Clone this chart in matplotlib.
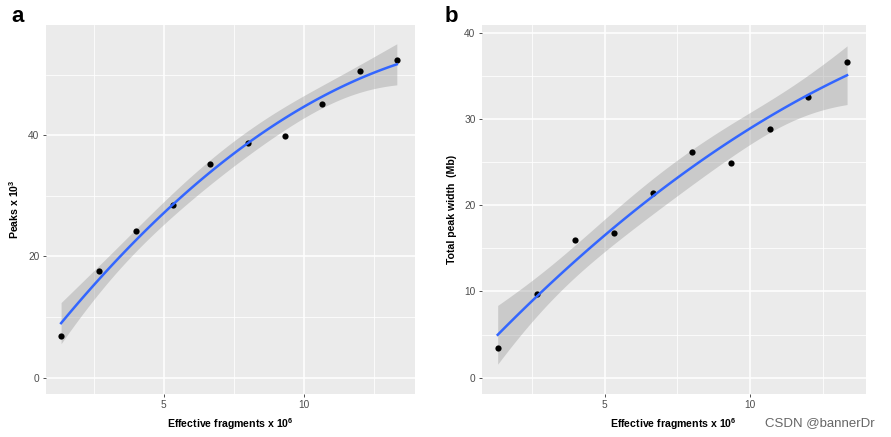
import numpy as np
import matplotlib
matplotlib.use("Agg")
import matplotlib.pyplot as plt
from matplotlib.ticker import MultipleLocator

plt.rcParams["font.family"] = ["Liberation Sans", "DejaVu Sans"]
plt.rcParams["mathtext.fontset"] = "custom"
plt.rcParams["mathtext.rm"] = "Liberation Sans"
plt.rcParams["mathtext.bf"] = "Liberation Sans:bold"

# ── Data ─────────────────────────────────────────────────────
fragments = [1.33, 2.67, 4.0, 5.33, 6.67, 8.0, 9.33, 10.67, 12.0, 13.33]
peaks = [6.9, 17.6, 24.2, 28.5, 35.3, 38.8, 39.8, 45.2, 50.6, 52.4]
peak_width = [3.4, 9.75, 16.0, 16.8, 21.4, 26.2, 24.9, 28.8, 32.6, 36.6]

BG = "#EBEBEB"
LINE = "#3366FF"
T975_DF7 = 2.365  # t quantile for 95% band, n=10, quadratic fit


def smooth_fit(x, y, deg=2, n=80):
    x = np.asarray(x, float)
    y = np.asarray(y, float)
    X = np.vander(x, deg + 1)
    coef, *_ = np.linalg.lstsq(X, y, rcond=None)
    resid = y - X @ coef
    s2 = resid @ resid / (len(x) - deg - 1)
    cov = s2 * np.linalg.inv(X.T @ X)
    xs = np.linspace(x.min(), x.max(), n)
    Xs = np.vander(xs, deg + 1)
    ys = Xs @ coef
    se = np.sqrt(np.einsum("ij,jk,ik->i", Xs, cov, Xs))
    return xs, ys, ys - T975_DF7 * se, ys + T975_DF7 * se


def gg_axes(ax, x, y, ylim, ymaj, ylabel):
    ax.set_facecolor(BG)
    for s in ax.spines.values():
        s.set_visible(False)
    ax.set_xlim(0.78, 13.98)
    ax.set_ylim(*ylim)
    ax.xaxis.set_major_locator(MultipleLocator(5))
    ax.xaxis.set_minor_locator(MultipleLocator(2.5))
    ax.yaxis.set_major_locator(MultipleLocator(ymaj))
    ax.yaxis.set_minor_locator(MultipleLocator(ymaj / 2))
    ax.grid(True, which="major", color="white", linewidth=1.1)
    ax.grid(True, which="minor", color="white", linewidth=0.55)
    ax.set_axisbelow(True)
    ax.tick_params(which="major", length=2.5, width=0.6, color="#333333",
                   labelsize=7.3, labelcolor="#4D4D4D", pad=2)
    ax.tick_params(which="minor", length=0)

    xs, ys, lo, hi = smooth_fit(x, y)
    ax.fill_between(xs, lo, hi, color="#999999", alpha=0.4, linewidth=0, zorder=2)
    ax.scatter(x, y, s=20, color="black", zorder=3, linewidths=0)
    ax.plot(xs, ys, color=LINE, linewidth=1.8, zorder=4)

    ax.set_xlabel(r"Effective fragments x 10$^\mathbf{6}$", fontsize=7.6,
                  fontweight="bold", labelpad=4)
    ax.set_ylabel(ylabel, fontsize=7.6, fontweight="bold", labelpad=5)


fig = plt.figure(figsize=(8.91, 4.37), dpi=100)
W, H = 891, 437
ax_a = fig.add_axes([45.7 / W, 1 - 394 / H, (415 - 45.7) / W, (394 - 25) / H])
ax_b = fig.add_axes([481.7 / W, 1 - 394 / H, (866 - 481.7) / W, (394 - 25) / H])

gg_axes(ax_a, fragments, peaks, (-2.7, 58.2), 20, r"Peaks x 10$^\mathbf{3}$")
gg_axes(ax_b, fragments, peak_width, (-1.9, 40.9), 10, "Total peak width  (Mb)")

fig.text(11 / W, 1 - 17 / H, "a", fontsize=16, fontweight="bold", va="center")
fig.text(445 / W, 1 - 17 / H, "b", fontsize=16, fontweight="bold", va="center")
fig.text(875 / W, 1 - 423 / H, "CSDN @bannerDr", fontsize=9.5, color="#666666",
         ha="right", va="center")

fig.savefig("out.png", dpi=100)
